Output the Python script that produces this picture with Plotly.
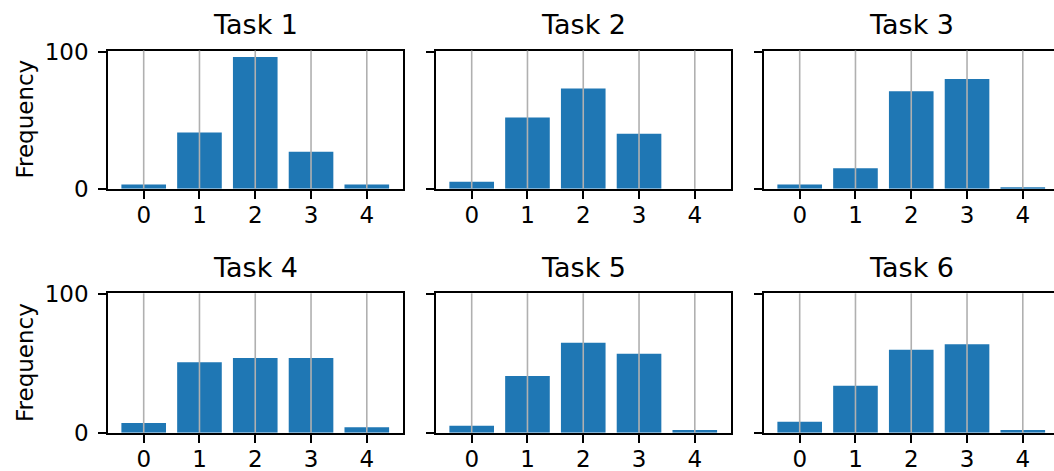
import plotly.graph_objects as go

categories = [0, 1, 2, 3, 4]
task_names = ["Task 1", "Task 2", "Task 3", "Task 4", "Task 5", "Task 6"]
task1 = [3, 41, 96, 27, 3]
task2 = [5, 52, 73, 40, 0]
task3 = [3, 15, 71, 80, 1]
task4 = [7, 51, 54, 54, 4]
task5 = [5, 41, 65, 57, 2]
task6 = [8, 34, 60, 64, 2]
series = [task1, task2, task3, task4, task5, task6]
y_ticks = [0, 100]
y_label = "Frequency"

W, H = 1054, 471
FONT = "DejaVu Sans"
BLUE = "#1f77b4"
GRID = "#b0b0b0"

# pixel layout (left, right) per column, (top, bottom) per row
cols_px = [(108.0, 402.5), (436.0, 730.5), (764.0, 1054.0)]
rows_px = [(50.5, 188.7), (293.3, 432.7)]
unit = (402.5 - 108.0) / 5.28  # px per category unit

fig = go.Figure()
layout = dict(
    width=W, height=H, margin=dict(l=0, r=0, t=0, b=0, autoexpand=False),
    paper_bgcolor="white", plot_bgcolor="white", showlegend=False,
    font=dict(family=FONT, size=23, color="black"),
)
annotations = []
shapes = []
for i, vals in enumerate(series):
    r, c = divmod(i, 3)
    idx = i + 1
    xa = "xaxis" if idx == 1 else f"xaxis{idx}"
    ya = "yaxis" if idx == 1 else f"yaxis{idx}"
    xr = "x" if idx == 1 else f"x{idx}"
    yr = "y" if idx == 1 else f"y{idx}"
    l, rt = cols_px[c]
    t, b = rows_px[r]
    fig.add_trace(go.Bar(x=categories, y=vals, marker=dict(color=BLUE, line=dict(width=0)),
                         width=0.8, xaxis=xr, yaxis=yr))
    xmin = -0.64
    xmax = xmin + (rt - l) / unit
    layout[xa] = dict(
        domain=[l / W, rt / W], anchor=yr, range=[xmin, xmax], automargin=False,
        tickvals=categories, ticktext=[str(v) for v in categories],
        ticks="outside", ticklen=8, tickwidth=1.6, tickcolor="black",
        showline=True, linecolor="black", linewidth=1.6, mirror=True,
        showgrid=False, zeroline=False, ticklabelstandoff=-3,
        tickfont=dict(family=FONT, size=23, color="black"),
    )
    layout[ya] = dict(
        domain=[1 - b / H, 1 - t / H], anchor=xr, range=[0, 100.8], automargin=False,
        tickvals=y_ticks, ticks="outside", ticklen=8, tickwidth=1.6, tickcolor="black",
        showticklabels=(c == 0),
        showline=True, linecolor="black", linewidth=1.6, mirror=(c != 2),
        showgrid=False, zeroline=False, ticklabelstandoff=5,
        tickfont=dict(family=FONT, size=23, color="black"),
    )
    for cat in categories:
        shapes.append(dict(type="line", xref=xr, yref=f"{yr} domain", x0=cat, x1=cat,
                           y0=0, y1=1, layer="above", line=dict(color=GRID, width=1.6)))
    cx = ((l + l + 5.28 * unit) / 2) / W
    annotations.append(dict(text=task_names[i], xref="paper", yref="paper",
                            x=cx, y=1 - (t - 25.5) / H, xanchor="center", yanchor="middle",
                            showarrow=False, font=dict(family=FONT, size=27, color="black")))
    if c == 0:
        annotations.append(dict(text=y_label, xref="paper", yref="paper",
                                x=25 / W, y=1 - ((t + b) / 2) / H, xanchor="center", yanchor="middle",
                                textangle=-90, showarrow=False,
                                font=dict(family=FONT, size=23, color="black")))

layout["annotations"] = annotations
layout["shapes"] = shapes
fig.update_layout(**layout)
fig.write_html("out.html", post_script="document.body.style.margin='0';")
